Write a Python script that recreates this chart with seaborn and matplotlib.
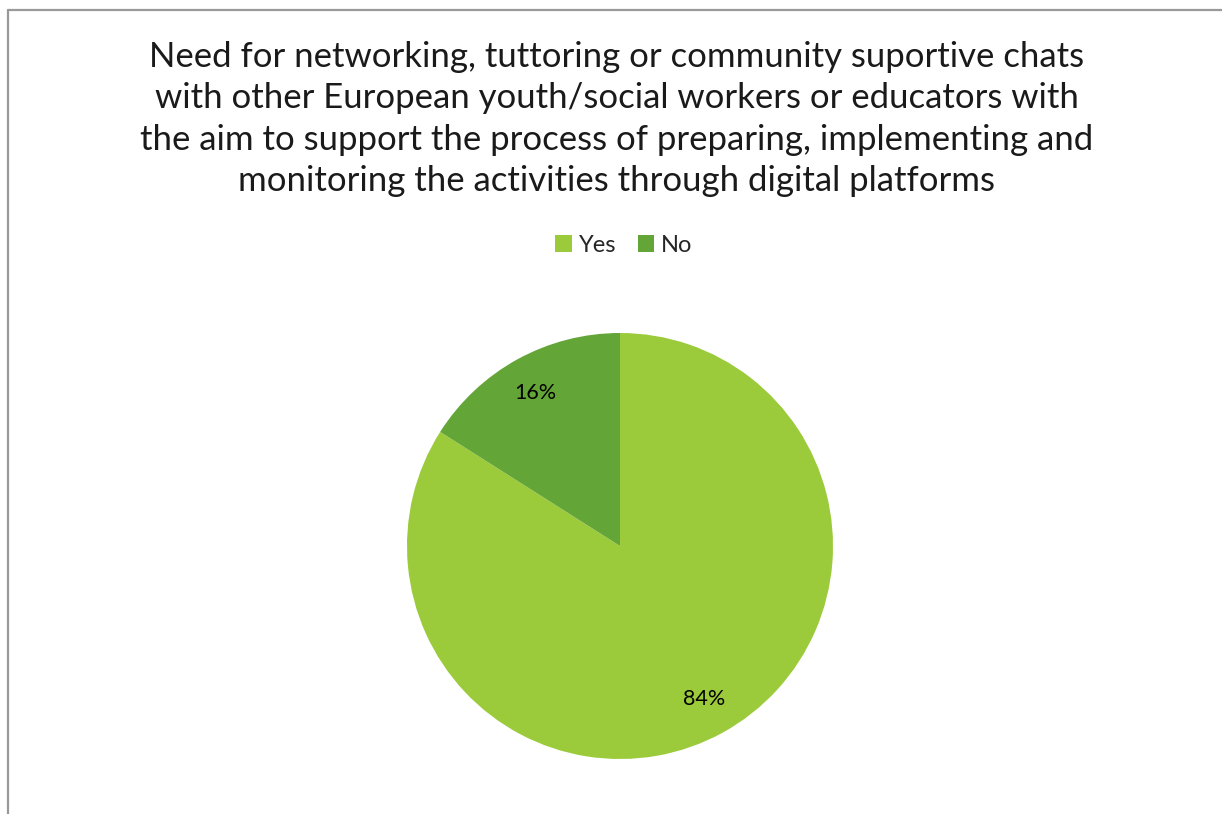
import matplotlib
matplotlib.use("Agg")
import matplotlib.pyplot as plt
from matplotlib.lines import Line2D
from matplotlib.patches import Patch
import seaborn as sns

categories = ["Yes", "No"]
shares = [84, 16]
colors = ["#9BCB3B", "#63A537"]
title_text = ("Need for networking, tuttoring or community suportive chats\n"
              "with other European youth/social workers or educators with\n"
              "the aim to support the process of preparing, implementing and\n"
              "monitoring the activities through digital platforms")

sns.set_theme(style="white")
plt.rcParams["font.family"] = ["Lato", "DejaVu Sans"]

W, H = 1222, 814
fig = plt.figure(figsize=(W / 100, H / 100), dpi=100)
fig.patch.set_facecolor("white")

# chart-area border (top and left edges)
fig.add_artist(Line2D([8 / W, 1.0], [1 - 10 / H, 1 - 10 / H], color="#999999", lw=1.6,
                      transform=fig.transFigure))
fig.add_artist(Line2D([8 / W, 8 / W], [0.0, 1 - 10 / H], color="#999999", lw=1.6,
                      transform=fig.transFigure))

cx, cy, r = 620, 546, 213
ax = fig.add_axes([(cx - r) / W, (H - cy - r) / H, 2 * r / W, 2 * r / H])
wedges, texts, autotexts = ax.pie(
    shares, colors=colors, startangle=90, counterclock=False,
    autopct=lambda p: f"{p:.0f}%", pctdistance=0.82,
    wedgeprops=dict(linewidth=0), textprops=dict(fontsize=15.5, color="black"))
ax.set_aspect("equal")
ax.set_xlim(-1, 1)
ax.set_ylim(-1, 1)
ax.axis("off")

fig.text(617 / W, 1 - 119 / H, title_text, ha="center", va="center",
         fontsize=25, color="#1a1a1a", linespacing=1.36)

handles = [Patch(facecolor=c, edgecolor="none", label=l) for c, l in zip(colors, categories)]
fig.legend(handles=handles, loc="center", bbox_to_anchor=(624 / W, 1 - 245 / H),
           ncol=2, frameon=False, fontsize=17, handlelength=0.7, handleheight=0.7,
           handletextpad=0.3, columnspacing=0.9)

fig.savefig("out.png", dpi=100, facecolor="white")
